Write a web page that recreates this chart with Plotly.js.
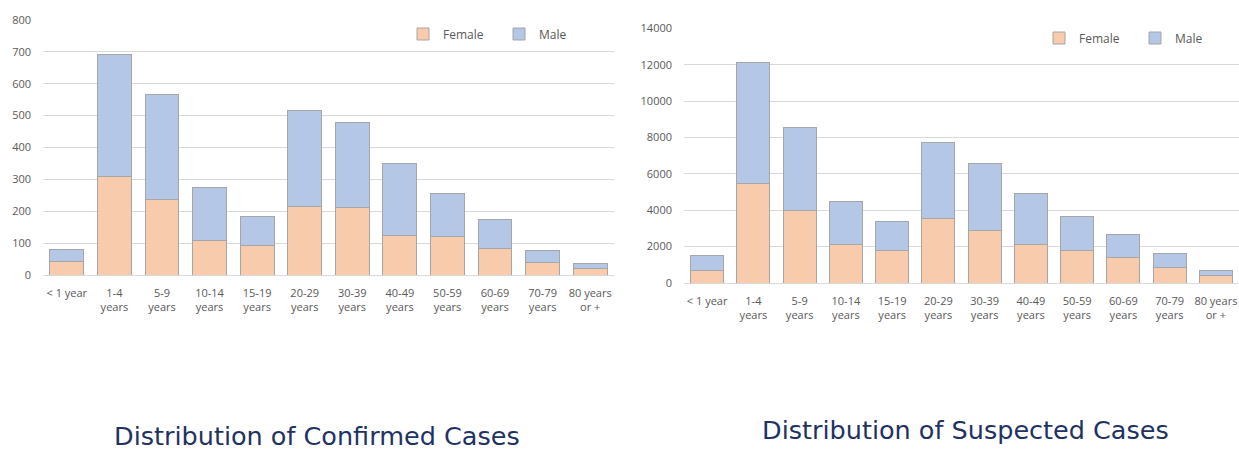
<!DOCTYPE html>
<html>
<head>
<meta charset="utf-8">
<script src="https://cdn.plot.ly/plotly-3.0.1.min.js"></script>
<style>html,body{margin:0;padding:0;background:#fff;}#chart{width:1239px;height:451px;}</style>
</head>
<body>
<div id="chart"></div>
<script>
const categories = ["< 1 year", "1-4<br>years", "5-9<br>years", "10-14<br>years", "15-19<br>years", "20-29<br>years", "30-39<br>years", "40-49<br>years", "50-59<br>years", "60-69<br>years", "70-79<br>years", "80 years<br>or +"];
const confirmedFemale = [42, 310, 238, 109, 94, 214, 213, 125, 121, 84, 39, 21];
const confirmedMale = [38, 382, 329, 165, 91, 302, 266, 224, 134, 89, 37, 14];
const suspectedFemale = [676, 5480, 3996, 2127, 1776, 3556, 2895, 2127, 1776, 1392, 843, 421];
const suspectedMale = [846, 6651, 4540, 2380, 1632, 4178, 3701, 2820, 1888, 1283, 788, 255];
const leftTitle = "Distribution of Confirmed Cases";
const rightTitle = "Distribution of Suspected Cases";

const femaleColor = "#F8CBAD";
const maleColor = "#B4C7E7";
const edge = {color: "#A6A6A6", width: 1};
const W = 1239, H = 451;

function bar(name, y, color, xa, ya, leg) {
  return {type: "bar", name: name, x: categories, y: y, xaxis: xa, yaxis: ya, legend: leg,
    marker: {color: color, line: edge}, width: 0.71, hoverinfo: "none"};
}

const data = [
  bar("Female", confirmedFemale, femaleColor, "x", "y", "legend"),
  bar("Male", confirmedMale, maleColor, "x", "y", "legend"),
  bar("Female", suspectedFemale, femaleColor, "x2", "y2", "legend2"),
  bar("Male", suspectedMale, maleColor, "x2", "y2", "legend2")
];

const tickFont = {family: "Open Sans, Liberation Sans, sans-serif", size: 11, color: "#595959"};
const xCommon = {type: "category", tickfont: tickFont, showgrid: false, zeroline: false, showline: false, ticks: "", ticklabelstandoff: 10, tickangle: 0, fixedrange: true};
const yCommon = {tickfont: tickFont, showgrid: true, gridcolor: "#D9D9D9", gridwidth: 1, zeroline: true, zerolinecolor: "#D9D9D9", zerolinewidth: 1, showline: false, ticks: "", fixedrange: true, tickformat: "d", ticklabelstandoff: 11};
const legCommon = {orientation: "h", xanchor: "left", yanchor: "middle", font: {family: "Open Sans, Liberation Sans, sans-serif", size: 12, color: "#595959"}, bgcolor: "rgba(0,0,0,0)", entrywidth: 51, entrywidthmode: "pixels", itemwidth: 30, traceorder: "normal", itemclick: false, itemdoubleclick: false};

const layout = {
  width: W, height: H,
  margin: {l: 0, r: 0, t: 0, b: 0},
  paper_bgcolor: "#fff", plot_bgcolor: "#fff",
  barmode: "stack",
  showlegend: true,
  xaxis: Object.assign({}, xCommon, {domain: [43 / W, 614 / W], anchor: "y"}),
  yaxis: Object.assign({}, yCommon, {domain: [1 - 275 / H, 1 - 20 / H], range: [0, 800], dtick: 100, anchor: "x"}),
  xaxis2: Object.assign({}, xCommon, {domain: [684 / W, 1239 / W], anchor: "y2"}),
  yaxis2: Object.assign({}, yCommon, {domain: [1 - 283 / H, 1 - 28.3 / H], range: [0, 14000], dtick: 2000, anchor: "x2"}),
  legend: Object.assign({}, legCommon, {x: 403 / W, y: 1 - 34 / H}),
  legend2: Object.assign({}, legCommon, {x: 1039 / W, y: 1 - 38 / H}),
  annotations: [
    {text: leftTitle, xref: "paper", yref: "paper", x: 317 / W, y: 1 - 436 / H, xanchor: "center", yanchor: "middle", showarrow: false, font: {family: "DejaVu Sans, Liberation Sans, sans-serif", size: 25.5, color: "#1F3264"}},
    {text: rightTitle, xref: "paper", yref: "paper", x: 965 / W, y: 1 - 430 / H, xanchor: "center", yanchor: "middle", showarrow: false, font: {family: "DejaVu Sans, Liberation Sans, sans-serif", size: 25.5, color: "#1F3264"}}
  ]
};

Plotly.newPlot("chart", data, layout, {staticPlot: true, displayModeBar: false});
</script>
</body>
</html>
